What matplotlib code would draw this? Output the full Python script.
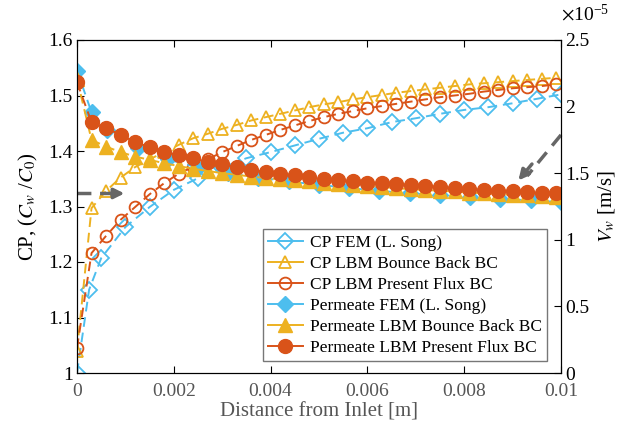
import numpy as np
import matplotlib
matplotlib.use("Agg")
import matplotlib.pyplot as plt
from matplotlib.lines import Line2D

plt.rcParams['font.family'] = ['Liberation Serif', 'DejaVu Serif']
plt.rcParams['mathtext.fontset'] = 'stix'

# ---------------- data ----------------
# LBM grid (m)
x_lbm = [0.0003 * k for k in range(34)]
# FEM grid for CP (m)
x_fem_cp = [0, 0.00025, 0.0005, 0.001, 0.0015, 0.002, 0.0025, 0.003, 0.0035, 0.004,
            0.0045, 0.005, 0.0055, 0.006, 0.0065, 0.007, 0.0075, 0.008, 0.0085,
            0.009, 0.0095, 0.01]
# FEM grid for permeate (m)
x_fem_vw = [0, 0.0003, 0.000625, 0.00125, 0.001875, 0.0025, 0.003125, 0.00375,
            0.004375, 0.005, 0.005625, 0.00625, 0.006875, 0.0075, 0.008125,
            0.00875, 0.009375, 0.01]

cp_fem = [1.0, 1.15, 1.207, 1.263, 1.299, 1.33, 1.351, 1.37, 1.387, 1.398, 1.41,
          1.422, 1.433, 1.441, 1.452, 1.459, 1.467, 1.474, 1.479, 1.486, 1.494, 1.502]
cp_bb = [1.04, 1.297, 1.328, 1.352, 1.371, 1.385, 1.398, 1.411, 1.423, 1.431, 1.44,
         1.447, 1.455, 1.461, 1.467, 1.473, 1.479, 1.484, 1.488, 1.493, 1.497, 1.501,
         1.505, 1.508, 1.511, 1.514, 1.517, 1.52, 1.522, 1.524, 1.526, 1.528, 1.53, 1.532]
cp_pf = [1.045, 1.216, 1.247, 1.276, 1.299, 1.322, 1.342, 1.359, 1.372, 1.385, 1.398,
         1.409, 1.42, 1.429, 1.438, 1.446, 1.454, 1.461, 1.467, 1.472, 1.477, 1.481,
         1.485, 1.489, 1.493, 1.497, 1.5, 1.503, 1.507, 1.51, 1.513, 1.515, 1.517, 1.52]

# permeate velocity, in units of 1e-5 m/s
vw_fem = [2.271, 1.958, 1.825, 1.688, 1.604, 1.542, 1.5, 1.467, 1.438, 1.413, 1.388,
          1.367, 1.35, 1.333, 1.321, 1.308, 1.296, 1.283]
vw_bb = [2.208, 1.75, 1.7, 1.658, 1.625, 1.6, 1.575, 1.554, 1.533, 1.517, 1.5, 1.488,
         1.475, 1.463, 1.454, 1.446, 1.438, 1.429, 1.421, 1.413, 1.404, 1.396, 1.388,
         1.379, 1.375, 1.367, 1.363, 1.354, 1.35, 1.342, 1.338, 1.333, 1.329, 1.321]
vw_pf = [2.183, 1.883, 1.838, 1.788, 1.733, 1.696, 1.658, 1.638, 1.613, 1.583, 1.567,
         1.546, 1.525, 1.508, 1.496, 1.483, 1.471, 1.458, 1.45, 1.438, 1.429, 1.425,
         1.417, 1.413, 1.404, 1.396, 1.388, 1.379, 1.375, 1.367, 1.363, 1.358, 1.354, 1.35]
vw_scale = 1e-5

labels = ['CP FEM (L. Song)', 'CP LBM Bounce Back BC', 'CP LBM Present Flux BC',
          'Permeate FEM (L. Song)', 'Permeate LBM Bounce Back BC',
          'Permeate LBM Present Flux BC']

xticks = [0, 0.002, 0.004, 0.006, 0.008, 0.01]
xticklabels = ['0', '0.002', '0.004', '0.006', '0.008', '0.01']
yticks = [1, 1.1, 1.2, 1.3, 1.4, 1.5, 1.6]
yticklabels = ['1', '1.1', '1.2', '1.3', '1.4', '1.5', '1.6']
y2ticks = [0, 0.5, 1, 1.5, 2, 2.5]
y2ticklabels = ['0', '0.5', '1', '1.5', '2', '2.5']

# ---------------- style ----------------
c_blue = '#4DBEEE'
c_yel = '#EDB120'
c_org = '#D95319'
gray = '#666666'

fig = plt.figure(figsize=(6.27, 4.33), dpi=100)
ax = fig.add_axes([77/627, 60/433, 484/627, 333/433])
ax2 = ax.twinx()

lw = 1.4
ls = (0, (5, 3))
ms_d, ms_t, ms_o = 8.0, 9.0, 8.5
ax.plot(x_fem_cp, cp_fem, ls=ls, lw=lw, color=c_blue, marker='D', ms=ms_d,
        mfc='none', mew=1.3)
ax.plot(x_lbm, cp_bb, ls=ls, lw=lw, color=c_yel, marker='^', ms=ms_t,
        mfc='none', mew=1.3)
ax.plot(x_lbm, cp_pf, ls=ls, lw=lw, color=c_org, marker='o', ms=ms_o,
        mfc='none', mew=1.3)

ax2.plot(x_fem_vw, np.array(vw_fem) * vw_scale, ls=ls, lw=lw, color=c_blue,
         marker='D', ms=8, mec=c_blue, mfc=c_blue)
ax2.plot(x_lbm, np.array(vw_bb) * vw_scale, ls=ls, lw=lw, color=c_yel,
         marker='^', ms=10, mec=c_yel, mfc=c_yel)
ax2.plot(x_lbm, np.array(vw_pf) * vw_scale, ls=ls, lw=lw, color=c_org,
         marker='o', ms=10, mec=c_org, mfc=c_org)

ax.set_xlim(0, 0.01)
ax.set_ylim(1, 1.6)
ax2.set_ylim(0, 2.5e-5)

ax.set_xticks(xticks)
ax.set_xticklabels(xticklabels, color='#555555', fontsize=14)
ax.set_yticks(yticks)
ax.set_yticklabels(yticklabels, fontsize=14)
ax2.set_yticks([v * vw_scale for v in y2ticks])
ax2.set_yticklabels(y2ticklabels, fontsize=14)

ax.tick_params(axis='x', direction='in', top=True, length=5, width=0.8, pad=7,
               color='black', labelcolor='#555555')
ax.tick_params(axis='y', direction='in', length=5, width=0.8, pad=3)
ax2.tick_params(axis='y', direction='in', length=5, width=0.8, pad=3)

for a in (ax, ax2):
    for s in a.spines.values():
        s.set_linewidth(0.8)
        s.set_color('black')

ax.set_xlabel('Distance from Inlet [m]', fontsize=15, color='#555555', labelpad=2)
ax.set_ylabel(r'CP, ($C_w$ /$C_0$)', fontsize=15, labelpad=6)
ax2.set_ylabel(r'$V_w$ [m/s]', fontsize=15, labelpad=5)
ax2.text(1.0, 1.045, r'$\times\mathregular{10^{-5}}$', transform=ax2.transAxes,
         fontsize=14, ha='left', va='bottom')

# arrows
ax.plot([0, 0.0008], [1.3235, 1.3235], ls=(0, (4, 2.5)), lw=2.5, color=gray,
        solid_capstyle='butt')
ax.annotate('', xy=(0.00098, 1.3235), xytext=(0.0007, 1.3235),
            arrowprops=dict(arrowstyle='-|>,head_length=0.6,head_width=0.3',
                            color=gray, lw=2.5, shrinkA=0, shrinkB=0))
ax.plot([0.01, 0.0093], [1.429, 1.355], ls=(0, (4, 2.5)), lw=2.5, color=gray,
        clip_on=False)
ax.annotate('', xy=(0.00912, 1.347), xytext=(0.0094, 1.3765),
            arrowprops=dict(arrowstyle='-|>,head_length=0.6,head_width=0.3',
                            color=gray, lw=2.5, shrinkA=0, shrinkB=0))

# legend with solid-line handles
handles = [
    Line2D([], [], color=c_blue, lw=lw, marker='D', ms=ms_d, mfc='none', mew=1.3),
    Line2D([], [], color=c_yel, lw=lw, marker='^', ms=ms_t, mfc='none', mew=1.3),
    Line2D([], [], color=c_org, lw=lw, marker='o', ms=ms_o, mfc='none', mew=1.3),
    Line2D([], [], color=c_blue, lw=lw, marker='D', ms=8, mfc=c_blue),
    Line2D([], [], color=c_yel, lw=lw, marker='^', ms=10, mfc=c_yel),
    Line2D([], [], color=c_org, lw=lw, marker='o', ms=10, mfc=c_org),
]
leg = ax2.legend(handles, labels, loc='lower right', bbox_to_anchor=(0.971, 0.036),
                 fontsize=12.5, frameon=True, fancybox=False, framealpha=1,
                 edgecolor='#777777', borderpad=0.3, labelspacing=0.28,
                 handlelength=2.0, handletextpad=0.4, borderaxespad=0)
leg.get_frame().set_linewidth(1.0)

fig.savefig('out.png', dpi=100)
